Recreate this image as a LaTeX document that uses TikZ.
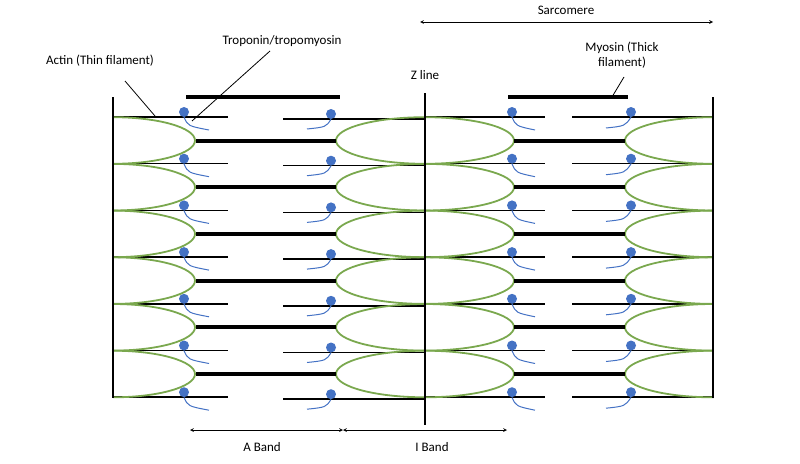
\documentclass[tikz,border=0pt]{standalone}
\usepackage{fontspec}
\setmainfont{Carlito}
\begin{document}
\begin{tikzpicture}[x=1pt,y=-1pt,
  zl/.style={line width=1.6pt,black},
  thin/.style={line width=1.5pt,black},
  thick/.style={line width=4pt,black},
  ell/.style={line width=1.8pt,draw={rgb,255:red,122;green,168;blue,78}},
  dot/.style={circle,fill={rgb,255:red,68;green,114;blue,196},inner sep=0pt,minimum size=10pt},
  tail/.style={draw={rgb,255:red,68;green,114;blue,196},line width=1pt},
  lbl/.style={font=\fontsize{13}{15}\selectfont,align=center,inner sep=1pt},
  ptr/.style={line width=0.8pt,black},
  dim/.style={line width=0.7pt,black,<->,>=stealth}]
\useasboundingbox (0,0) rectangle (800,463);
\foreach \k in {0,...,6}{
  \pgfmathsetmacro\y{117+46.7*\k}
  \draw[thin] (113,\y) -- (228,\y);
  \draw[thin] (283,\y+2) -- (425,\y+2);
  \draw[thin] (425,\y) -- (545,\y);
  \draw[thin] (572,\y) -- (713,\y);
  \node[dot] (d1\k) at (184,\y-5) {};
  \draw[tail] (d1\k.south) .. controls (188,\y+9) .. (209,\y+13);
  \node[dot] (d2\k) at (331,\y-3) {};
  \draw[tail] (d2\k.south) .. controls (326,\y+10) .. (307,\y+12);
  \node[dot] (d3\k) at (512,\y-5) {};
  \draw[tail] (d3\k.south) .. controls (516,\y+9) .. (535,\y+13);
  \node[dot] (d4\k) at (631,\y-5) {};
  \draw[tail] (d4\k.south) .. controls (625,\y+9) .. (606,\y+11);
}
\foreach \k in {0,...,5}{
  \pgfmathsetmacro\y{140.5+46.7*\k}
  \draw[ell] (113,\y) ellipse (82 and 23.3);
  \draw[ell] (425,\y) ellipse (89 and 23.3);
  \draw[ell] (713,\y) ellipse (88 and 23.3);
  \draw[thick] (196,\y) -- (336,\y);
  \draw[thick] (514,\y) -- (625,\y);
}
\fill[white] (0,90) rectangle (112.5,420);
\fill[white] (713.5,90) rectangle (800,420);
\coordinate (z1a) at (113,97); \coordinate (z1b) at (113,398);
\coordinate (z2a) at (425,93); \coordinate (z2b) at (425,425);
\coordinate (z3a) at (713,97); \coordinate (z3b) at (713,398);
\draw[zl] (z1a) -- (z1b); \draw[zl] (z2a) -- (z2b); \draw[zl] (z3a) -- (z3b);
\coordinate (b1a) at (186,97); \coordinate (b1b) at (340,97);
\coordinate (b2a) at (508,97); \coordinate (b2b) at (628,97);
\draw[thick] (b1a) -- (b1b); \draw[thick] (b2a) -- (b2b);
\node[lbl] (actin) at (100,61) {Actin (Thin filament)};
\node[lbl] (trop) at (282,41) {Troponin/tropomyosin};
\node[lbl] (zline) at (425,75) {Z line};
\node[lbl] (myo) at (622,55) {Myosin (Thick\\filament)};
\node[lbl] (sarc) at (566,10) {Sarcomere};
\node[lbl] (aband) at (262,447) {A Band};
\node[lbl] (iband) at (432,447) {I Band};
\coordinate (pa) at (155,116); \coordinate (pt) at (192,121); \coordinate (pm) at (612,97);
\draw[ptr] (125,81) -- (pa);
\draw[ptr] (270,51) -- (pt);
\draw[ptr] (624,77) -- (pm);
\coordinate (s1) at (420,22); \coordinate (s2) at (713,22);
\draw[dim] (s1) -- (s2);
\coordinate (a1) at (190,430); \coordinate (a2) at (343,430); \coordinate (a3) at (507,430);
\draw[dim] (a1) -- (a2); \draw[dim] (a2) -- (a3);
\end{tikzpicture}
\end{document}
